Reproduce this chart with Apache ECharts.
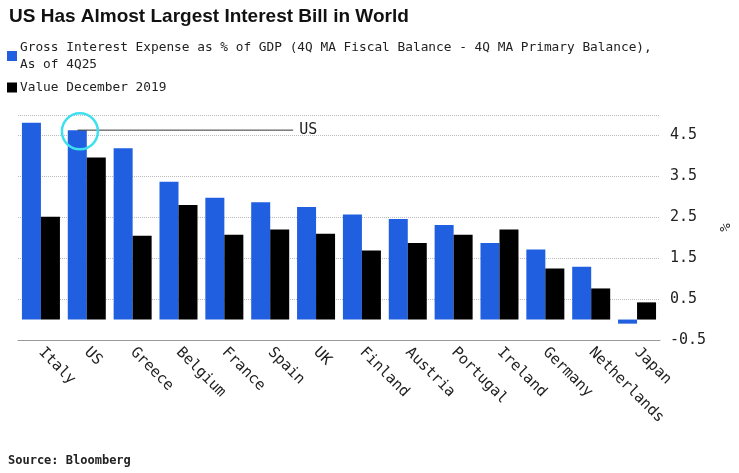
<!DOCTYPE html>
<html>
<head>
  <meta charset="UTF-8">
  <title>US Interest Bill</title>
</head>
<body style="margin:0;background:#fff">
  <div id="main" style="width:739px;height:473px;"></div>
  <script src="https://cdn.jsdelivr.net/npm/echarts@6/dist/echarts.min.js"></script>
  <script>
    const countries = ['Italy', 'US', 'Greece', 'Belgium', 'France', 'Spain', 'UK', 'Finland',
      'Austria', 'Portugal', 'Ireland', 'Germany', 'Netherlands', 'Japan'];
    const gross4Q25 = [4.81, 4.63, 4.19, 3.37, 2.98, 2.87, 2.75, 2.57, 2.46, 2.31, 1.87, 1.71, 1.29, -0.1];
    const dec2019 = [2.51, 3.96, 2.05, 2.8, 2.07, 2.2, 2.1, 1.69, 1.87, 2.07, 2.2, 1.25, 0.76, 0.42];
    const usNote = [[0.8, 4.63], [5.5, 4.63]];

    const mono = 'DejaVu Sans Mono';
    const chart = echarts.init(document.getElementById('main'));
    chart.setOption({
      animation: false,
      title: {
        text: 'US Has Almost Largest Interest Bill in World',
        left: 4, top: 2,
        textStyle: { fontFamily: 'Liberation Sans', fontWeight: 'bold', fontSize: 19, color: '#111' }
      },
      legend: {
        orient: 'vertical', left: 2, top: 34, itemWidth: 10, itemHeight: 10, itemGap: 6,
        icon: 'rect', selectedMode: false,
        data: ['blue', 'black'],
        formatter: n => n === 'blue'
          ? 'Gross Interest Expense as % of GDP (4Q MA Fiscal Balance - 4Q MA Primary Balance),\nAs of 4Q25'
          : 'Value December 2019',
        textStyle: { fontFamily: mono, fontSize: 12.8, color: '#222', lineHeight: 17, padding: [0, 0, 0, -2] }
      },
      graphic: [{
        type: 'text', left: 8, bottom: 6,
        style: { text: 'Source: Bloomberg', font: 'bold 12px "DejaVu Sans Mono"', fill: '#222' }
      }],
      grid: { left: 18, right: 51, top: 115, bottom: 133 },
      xAxis: [{
        type: 'category', data: countries,
        axisLine: { onZero: false, lineStyle: { color: '#999' } },
        axisTick: { show: false },
        axisLabel: { rotate: -45, interval: 0, fontFamily: mono, fontSize: 15, color: '#222', margin: 10 }
      }, {
        type: 'value', min: -0.5, max: 13.5, show: false
      }],
      yAxis: {
        type: 'value', position: 'right', min: -0.5, max: 5, interval: 1,
        name: '%', nameLocation: 'middle', nameGap: 30, nameRotate: -90,
        nameTextStyle: { fontFamily: mono, fontSize: 14, color: '#222' },
        axisLine: { show: false }, axisTick: { show: false },
        axisLabel: { fontFamily: mono, fontSize: 15, color: '#222', margin: 10,
          formatter: v => v > 4.6 ? '' : v.toFixed(1) },
        splitLine: { lineStyle: { color: '#bbb', type: 'dotted' } }
      },
      series: [{
        name: 'blue', type: 'bar', data: gross4Q25, barWidth: 19, barGap: '0%',
        itemStyle: { color: '#1f5fe0' }
      }, {
        name: 'black', type: 'bar', data: dec2019, barWidth: 19,
        itemStyle: { color: '#000' }
      }, {
        type: 'line', xAxisIndex: 1, data: usNote, symbol: 'none',
        lineStyle: { color: '#333', width: 1 },
        endLabel: { show: true, formatter: 'US', fontFamily: mono, fontSize: 15, color: '#222', distance: 6 },
        markPoint: {
          symbol: 'circle', symbolSize: 36,
          data: [{ coord: [0.85, 4.6] }],
          itemStyle: { color: 'rgba(0,0,0,0)', borderColor: '#3ee0f0', borderWidth: 2.5 },
          label: { show: false }
        }
      }]
    });
  </script>
</body>
</html>
